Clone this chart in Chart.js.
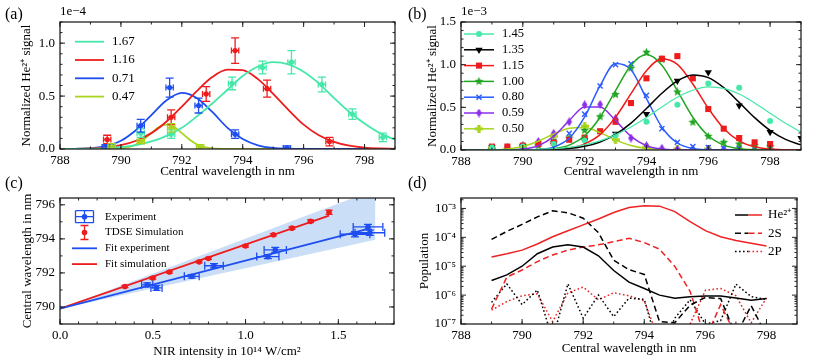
<!DOCTYPE html>
<html>
<head>
<meta charset="utf-8">
<title>He2+ signal vs central wavelength</title>
<script src="https://cdn.jsdelivr.net/npm/chart.js@4.4.1/dist/chart.umd.min.js"></script>
<style>
  body { margin: 0; background: #fff; font-family: "Liberation Serif", serif; }
  #page { position: relative; width: 814px; height: 359px; overflow: hidden; }
  .panel { position: absolute; }
  .txt { position: absolute; line-height: 1; color: #000; white-space: nowrap; }
</style>
</head>
<body>
<div id="page">
  <div class="panel" style="left:0;top:0;width:407px;height:182px"><canvas id="chartA"></canvas></div>
  <div class="panel" style="left:407px;top:0;width:407px;height:182px"><canvas id="chartB"></canvas></div>
  <div class="panel" style="left:0;top:175px;width:407px;height:184px"><canvas id="chartC"></canvas></div>
  <div class="panel" style="left:407px;top:175px;width:407px;height:184px"><canvas id="chartD"></canvas></div>
  <div class="txt" style="left:5px;top:6px;font-size:16px">(a)</div>
  <div class="txt" style="left:408px;top:6px;font-size:16px">(b)</div>
  <div class="txt" style="left:5px;top:175px;font-size:16px">(c)</div>
  <div class="txt" style="left:408px;top:175px;font-size:16px">(d)</div>
  <div class="txt" style="left:60px;top:4px;font-size:13px">1e&minus;4</div>
  <div class="txt" style="left:461px;top:4px;font-size:13px">1e&minus;3</div>
</div>
<script>
// ---------- (a) measured He2+ signal, in units of 1e-4 ----------
const aXTicks = [788, 790, 792, 794, 796, 798];
const aYTicks = [0, 0.5, 1.0];
const aFitX = [788, 788.5, 789, 789.5, 790, 790.5, 791, 791.5, 792, 792.5, 793, 793.5, 794, 794.5, 795, 795.5, 796, 796.5, 797, 797.5, 798, 798.5, 799];
const aFit167 = [0.0005, 0.0014, 0.0036, 0.0084, 0.018, 0.037, 0.071, 0.124, 0.20, 0.31, 0.43, 0.56, 0.69, 0.78, 0.82, 0.80, 0.73, 0.62, 0.48, 0.35, 0.24, 0.15, 0.089];
const aFit116 = [0.0006, 0.0019, 0.0056, 0.015, 0.036, 0.078, 0.15, 0.26, 0.40, 0.55, 0.68, 0.75, 0.745, 0.66, 0.52, 0.37, 0.23, 0.13, 0.068, 0.031, 0.012, 0.0045, 0.0015];
const aFit071 = [0.0003, 0.0017, 0.0077, 0.027, 0.078, 0.18, 0.32, 0.46, 0.53, 0.48, 0.35, 0.20, 0.094, 0.035, 0.010, 0.0024, 0.0004, 0.0001, 0, 0, 0, 0, 0];
const aFit047X = [788, 789, 789.5, 790, 790.25, 790.5, 790.75, 791, 791.25, 791.5, 791.75, 792, 792.25, 792.5, 792.75, 793, 793.5, 794, 799];
const aFit047 = [0, 0, 0.0003, 0.0054, 0.017, 0.043, 0.09, 0.15, 0.207, 0.23, 0.207, 0.15, 0.09, 0.043, 0.017, 0.0054, 0.0003, 0, 0];

const a167X = [789.7, 790.65, 791.65, 793.65, 794.65, 795.6, 796.6, 797.6, 798.6];
const a167Y = [0.03, 0.15, 0.14, 0.62, 0.77, 0.82, 0.61, 0.33, 0.11];
const a167E = [0.02, 0.04, 0.04, 0.06, 0.06, 0.11, 0.07, 0.05, 0.04];
const a116X = [789.55, 791.65, 792.8, 793.75, 794.8, 796.85];
const a116Y = [0.09, 0.30, 0.52, 0.93, 0.57, 0.07];
const a116E = [0.04, 0.07, 0.07, 0.12, 0.08, 0.04];
const a071X = [789.5, 790.65, 791.6, 792.55, 793.75, 795.45];
const a071Y = [0.02, 0.22, 0.58, 0.41, 0.14, 0.01];
const a071E = [0.02, 0.06, 0.09, 0.07, 0.04, 0.02];
const a047X = [789.7, 790.65, 791.65, 792.6];
const a047Y = [0.03, 0.07, 0.20, 0.02];
const a047E = [0.02, 0.02, 0.04, 0.02];
const aXErr = 0.12;   // wavelength uncertainty, nm

// ---------- (b) simulated He2+ signal, in units of 1e-3 ----------
const bXTicks = [788, 790, 792, 794, 796, 798];
const bYTicks = [0, 0.5, 1.0, 1.5];
const bFitX = aFitX;
const bFit145 = [0.00003, 0.0001, 0.0004, 0.0011, 0.0029, 0.0068, 0.015, 0.031, 0.06, 0.107, 0.177, 0.27, 0.38, 0.505, 0.618, 0.70, 0.74, 0.722, 0.656, 0.552, 0.431, 0.313, 0.21];
const bFit135 = [0, 0, 0.00004, 0.00015, 0.0006, 0.0021, 0.0064, 0.0176, 0.043, 0.094, 0.183, 0.315, 0.486, 0.665, 0.81, 0.88, 0.848, 0.73, 0.558, 0.38, 0.23, 0.124, 0.06];
const bFit115 = [0, 0, 0, 0.00003, 0.0002, 0.0013, 0.006, 0.023, 0.072, 0.18, 0.385, 0.66, 0.93, 1.066, 1.004, 0.774, 0.489, 0.252, 0.107, 0.037, 0.0105, 0.0024, 0.0004];
const bFit100 = [0, 0, 0, 0.00007, 0.0006, 0.0033, 0.0154, 0.057, 0.167, 0.384, 0.696, 0.994, 1.12, 0.994, 0.696, 0.384, 0.167, 0.057, 0.0154, 0.0033, 0.0006, 0, 0];
const bFit080 = [0, 0, 0, 0, 0.0007, 0.0057, 0.034, 0.137, 0.387, 0.753, 1.013, 0.94, 0.603, 0.267, 0.082, 0.017, 0.0025, 0.0003, 0, 0, 0, 0, 0];
const bFit059 = [0, 0, 0.0002, 0.0016, 0.011, 0.05, 0.16, 0.344, 0.505, 0.505, 0.344, 0.16, 0.05, 0.011, 0.0016, 0.0002, 0, 0, 0, 0, 0, 0, 0];
const bFit050 = [0.00007, 0.0005, 0.003, 0.013, 0.042, 0.103, 0.187, 0.256, 0.264, 0.204, 0.119, 0.052, 0.017, 0.004, 0.0008, 0.0001, 0, 0, 0, 0, 0, 0, 0];

const bX1 = [789, 790, 791, 792, 793, 794, 795, 796, 797, 798, 799];
const b145 = [0.03, 0.04, 0.07, 0.11, 0.17, 0.33, 0.53, 0.78, 0.73, 0.34, null];
const b135 = [0.03, 0.04, 0.06, 0.11, 0.19, 0.42, 0.81, 0.91, 0.52, 0.21, 0.14];
const b050 = [0.02, 0.05, 0.16, 0.28, 0.12, 0.03, 0.01, 0.01, 0.01, 0.01, null];
const bX05 = [789, 789.5, 790, 790.5, 791, 791.5, 792, 792.5, 793, 793.5, 794, 794.5, 795, 795.5, 796, 796.5, 797, 797.5, 798];
const b115 = [0.04, 0.04, 0.05, 0.07, 0.086, 0.12, 0.145, 0.22, 0.33, 0.55, 0.84, 1.07, 1.10, 0.84, 0.48, 0.25, 0.14, 0.09, 0.07];
const b100 = [0.01, 0.01, 0.02, 0.05, 0.09, 0.14, 0.23, 0.39, 0.65, 0.96, 1.145, 1.06, 0.68, 0.325, 0.16, 0.09, 0.07, 0.05, 0.04];
const b080 = [0.02, 0.02, 0.03, 0.07, 0.10, 0.195, 0.42, 0.75, 1.0, 1.01, 0.64, 0.25, 0.09, 0.04, 0.03, 0.02, 0.02, 0.02, 0.02];
const b059 = [0.01, 0.03, 0.05, 0.10, 0.195, 0.33, 0.53, 0.535, 0.37, 0.14, 0.05, 0.02, 0.01, 0.01, 0.01, 0.01, 0.01, 0.01, 0.01];

// ---------- (c) central wavelength vs NIR intensity ----------
const cXTicks = [0, 0.5, 1.0, 1.5];
const cYTicks = [790, 792, 794, 796];
const cExpX = [0.47, 0.52, 0.71, 0.83, 1.12, 1.16, 1.59, 1.66, 1.67];
const cExpY = [791.3, 791.12, 791.8, 792.42, 792.96, 793.35, 794.27, 794.7, 794.36];
const cExpXE = [0.03, 0.03, 0.04, 0.05, 0.06, 0.06, 0.08, 0.08, 0.08];
const cExpYE = [0.12, 0.15, 0.1, 0.12, 0.12, 0.15, 0.15, 0.15, 0.15];
const cSimX = [0.35, 0.5, 0.59, 0.75, 0.8, 1.0, 1.15, 1.25, 1.35, 1.45];
const cSimY = [791.2, 791.7, 792.05, 792.65, 792.85, 793.58, 794.24, 794.63, 795.03, 795.56];
const cSimYE = [0.06, 0.06, 0.06, 0.06, 0.06, 0.07, 0.07, 0.07, 0.08, 0.12];
const cFitExpX = [0, 1.67];
const cFitExpY = [789.9, 794.62];
const cFitSimX = [0, 1.45];
const cFitSimY = [789.9, 795.37];
const cBandX = [0, 1.7];
const cBandHi = [789.9, 796.9];
const cBandLo = [789.9, 793.95];

// ---------- (d) populations vs central wavelength ----------
const dXTicks = [788, 790, 792, 794, 796, 798];
const dYTicks = [1e-7, 1e-6, 1e-5, 1e-4, 1e-3];
const dX = [789, 789.5, 790, 790.5, 791, 791.5, 792, 792.5, 793, 793.5, 794, 794.5, 795, 795.5, 796, 796.5, 797, 797.5, 798];
const dHeBlack = [3.2e-6, 5.0e-6, 1.0e-5, 2.7e-5, 4.6e-5, 5.5e-5, 4.6e-5, 2.3e-5, 7.1e-6, 2.8e-6, 1.7e-6, 1.0e-6, 7.8e-7, 8.7e-7, 9.3e-7, 9.3e-7, 7.9e-7, 6.6e-7, 7.6e-7];
const dHeRed = [2.1e-5, 2.7e-5, 3.6e-5, 5.9e-5, 1.05e-4, 1.7e-4, 2.7e-4, 4.3e-4, 7.2e-4, 1.07e-3, 1.23e-3, 1.2e-3, 7.8e-4, 3.5e-4, 1.7e-4, 1.05e-4, 7.8e-5, 6.2e-5, 5.0e-5];
const d2SBlack = [8.5e-5, 1.6e-4, 2.8e-4, 5.1e-4, 8.3e-4, 7.1e-4, 4.6e-4, 1.45e-4, 1.6e-5, 7.6e-6, 5.2e-6, 1.2e-7, 1.1e-7, 4.5e-7, 8.3e-7, 7.6e-7, 4e-8, 4.3e-7, 4e-8];
const d2SRed = [3.3e-7, 4.2e-6, 7.4e-6, 1.45e-5, 2.45e-5, 3.6e-5, 4.6e-5, 5.5e-5, 7.1e-5, 9.3e-5, 6.6e-5, 3.9e-5, 9.8e-6, 1.35e-6, 3e-8, 4.7e-7, 4e-8, 2.5e-8, 8e-8];
const d2PBlack = [5.6e-7, 2.45e-6, 4.7e-7, 1.5e-6, 3e-8, 2.45e-6, 1.6e-7, 1.0e-6, 1.8e-7, 7.9e-7, 7.1e-7, 1e-8, 1.6e-7, 6.9e-7, 1.0e-7, 1.3e-7, 2.4e-6, 8.9e-7, 7.1e-7];
const d2PRed = [3.0e-7, 6.0e-7, 9.5e-7, 1.1e-6, 1.2e-7, 1.2e-6, 1.9e-6, 6.9e-7, 1.2e-6, 9.5e-7, 6.3e-7, 2.5e-8, 2.5e-8, 1.0e-7, 1.45e-6, 1.7e-6, 9.5e-7, 1.1e-7, 8e-7];

// colours
const MINT = '#45e8a8', RED = '#ee1c1c', BLUE = '#1f4ef0', LIME = '#a8d41e';
const BLACK = '#000', GREEN = '#22a522', BBLUE = '#2a5cff', PURPLE = '#8a2ee8';

Chart.defaults.font.family = '"Liberation Serif", "Times New Roman", serif';
Chart.defaults.font.size = 13;
Chart.defaults.color = '#000';

// little canvases used as marker shapes
function shape(size, color, path) {
  const c = document.createElement('canvas');
  c.width = c.height = size;
  const g = c.getContext('2d');
  g.fillStyle = color;
  g.translate(size / 2, size / 2);
  g.beginPath();
  path(g, size / 2);
  g.fill();
  return c;
}
const starPath = (g, r) => {
  for (let i = 0; i < 10; i++) {
    const t = -Math.PI / 2 + i * Math.PI / 5, rr = i % 2 ? r * 0.45 : r;
    g.lineTo(rr * Math.cos(t), rr * Math.sin(t));
  }
  g.closePath();
};
const diamondPath = (g, r) => { g.moveTo(0, -r); g.lineTo(r * 0.62, 0); g.lineTo(0, r); g.lineTo(-r * 0.62, 0); g.closePath(); };
const plusPath = (g, r) => { const w = r * 0.4; g.rect(-r, -w, 2 * r, 2 * w); g.rect(-w, -r, 2 * w, 2 * r); };
const starMk = shape(9, GREEN, starPath);
const diamondMk = shape(9, PURPLE, diamondPath);
const plusMk = shape(8, LIME, plusPath);

const pts = (xs, ys) => xs.map((x, i) => ({x: x, y: ys[i]}));

function curve(xs, ys, color, w, dash) {
  return {data: pts(xs, ys), borderColor: color, borderWidth: w, borderDash: dash || [],
          pointRadius: 0, cubicInterpolationMode: 'monotone', fill: false};
}
function poly(xs, ys, color, w, dash) {
  return {data: pts(xs, ys), borderColor: color, borderWidth: w, borderDash: dash || [],
          pointRadius: 0, tension: 0, fill: false};
}
function dots(xs, ys, color, style, r, rot) {
  return {data: pts(xs, ys), showLine: false, pointStyle: style, pointRadius: r, pointRotation: rot || 0,
          pointBackgroundColor: color, pointBorderColor: color, pointBorderWidth: style === 'crossRot' ? 1.4 : 0};
}

function axis(type, min, max, ticks, title, size, pad, isX, fmt) {
  return {
    type: type, min: min, max: max,
    grid: {display: false, drawTicks: false}, border: {display: false},
    afterBuildTicks: s => { s.ticks = ticks.map(v => ({value: v})); },
    afterFit: s => { if (isX) s.height = size; else s.width = size; },
    ticks: {padding: isX ? 4 : 5, callback: fmt, maxRotation: 0, autoSkip: false},
    title: {display: true, text: title, padding: pad}
  };
}

function options(x, y, pad, plugins) {
  return {
    responsive: true, maintainAspectRatio: false, animation: false,
    layout: {padding: pad},
    scales: {x: x, y: y},
    plugins: Object.assign({legend: {display: false}, tooltip: {enabled: false}}, plugins)
  };
}

// box and inward ticks on all four sides
const frame = {
  id: 'frame',
  afterDraw(chart, args, o) {
    const {ctx, chartArea: a} = chart;
    const xs = chart.scales.x, ys = chart.scales.y;
    const minors = (s, step) => {
      const out = [];
      if (s.type === 'logarithmic') {
        for (let e = Math.floor(Math.log10(s.min)); e <= Math.ceil(Math.log10(s.max)); e++)
          for (let m = 2; m < 10; m++) { const v = m * Math.pow(10, e); if (v > s.min && v < s.max) out.push(v); }
      } else {
        for (let v = Math.ceil(s.min / step - 1e-9) * step; v <= s.max + 1e-9; v += step) out.push(v);
      }
      return out;
    };
    ctx.save();
    ctx.strokeStyle = '#222';
    ctx.lineWidth = 1;
    ctx.beginPath();
    const tx = (v, len) => {
      const p = xs.getPixelForValue(v);
      ctx.moveTo(p, a.bottom); ctx.lineTo(p, a.bottom - len);
      ctx.moveTo(p, a.top); ctx.lineTo(p, a.top + len);
    };
    const ty = (v, len) => {
      const p = ys.getPixelForValue(v);
      ctx.moveTo(a.left, p); ctx.lineTo(a.left + len, p);
      ctx.moveTo(a.right, p); ctx.lineTo(a.right - len, p);
    };
    xs.ticks.forEach(t => tx(t.value, 5));
    ys.ticks.forEach(t => ty(t.value, 5));
    minors(xs, o.xMinor).forEach(v => tx(v, 2.5));
    minors(ys, o.yMinor).forEach(v => ty(v, 2.5));
    ctx.stroke();
    ctx.lineWidth = 1.3;
    ctx.strokeRect(a.left, a.top, a.right - a.left, a.bottom - a.top);
    ctx.restore();
  }
};

// error bars read from the data arrays
const errbars = {
  id: 'errbars',
  afterDatasetsDraw(chart, args, o) {
    if (!o.sets) return;
    const {ctx, chartArea: a} = chart;
    const xs = chart.scales.x, ys = chart.scales.y;
    ctx.save();
    ctx.beginPath();
    ctx.rect(a.left, a.top, a.right - a.left, a.bottom - a.top);
    ctx.clip();
    o.sets.forEach(s => {
      ctx.strokeStyle = s.color;
      ctx.lineWidth = s.width || 1.3;
      ctx.beginPath();
      s.x.forEach((xv, i) => {
        const px = xs.getPixelForValue(xv), py = ys.getPixelForValue(s.y[i]);
        if (s.ye) {
          const e = s.ye[i];
          const y1 = ys.getPixelForValue(s.y[i] - e), y2 = ys.getPixelForValue(s.y[i] + e);
          ctx.moveTo(px, y1); ctx.lineTo(px, y2);
          ctx.moveTo(px - s.cap, y1); ctx.lineTo(px + s.cap, y1);
          ctx.moveTo(px - s.cap, y2); ctx.lineTo(px + s.cap, y2);
        }
        if (s.xe !== undefined) {
          const e = Array.isArray(s.xe) ? s.xe[i] : s.xe;
          const x1 = xs.getPixelForValue(xv - e), x2 = xs.getPixelForValue(xv + e);
          ctx.moveTo(x1, py); ctx.lineTo(x2, py);
          ctx.moveTo(x1, py - s.xcap); ctx.lineTo(x1, py + s.xcap);
          ctx.moveTo(x2, py - s.xcap); ctx.lineTo(x2, py + s.xcap);
        }
      });
      ctx.stroke();
    });
    ctx.restore();
  }
};

function mark(ctx, m, x, y, color) {
  ctx.save();
  ctx.fillStyle = color; ctx.strokeStyle = color; ctx.lineWidth = 1.4; ctx.setLineDash([]);
  if (m.style instanceof HTMLCanvasElement) {
    ctx.drawImage(m.style, x - m.style.width / 2, y - m.style.height / 2);
  } else if (Chart.helpers && Chart.helpers.drawPoint) {
    Chart.helpers.drawPoint(ctx, {pointStyle: m.style, radius: m.r, rotation: m.rot || 0,
                                  borderWidth: m.style === 'crossRot' ? 1.4 : 0}, x, y);
  } else {
    ctx.beginPath(); ctx.arc(x, y, m.r * 0.8, 0, 2 * Math.PI); ctx.fill();
  }
  ctx.restore();
}

// hand-placed legends inside the plot frame
const keys = {
  id: 'keys',
  afterDraw(chart, args, o) {
    if (!o.items) return;
    const ctx = chart.ctx;
    ctx.save();
    ctx.font = o.font + 'px "Liberation Serif", serif';
    ctx.textBaseline = 'middle';
    o.items.forEach((it, i) => {
      const y = o.y + i * o.dy, x0 = o.x, x1 = o.x + o.len, xm = (x0 + x1) / 2;
      ctx.lineWidth = it.width || 1.8;
      ctx.setLineDash(it.dash || []);
      if (it.colors) {
        ctx.strokeStyle = it.colors[0];
        ctx.beginPath(); ctx.moveTo(x0, y); ctx.lineTo(xm, y); ctx.stroke();
        ctx.strokeStyle = it.colors[1];
        ctx.beginPath(); ctx.moveTo(xm, y); ctx.lineTo(x1, y); ctx.stroke();
      } else if (it.line) {
        ctx.strokeStyle = it.color;
        ctx.beginPath(); ctx.moveTo(x0, y); ctx.lineTo(x1, y); ctx.stroke();
      }
      ctx.setLineDash([]);
      if (it.err) {
        ctx.strokeStyle = it.color; ctx.fillStyle = it.color; ctx.lineWidth = 1.3;
        ctx.beginPath();
        if (it.err === 'xy') {
          ctx.moveTo(xm - 9, y); ctx.lineTo(xm + 9, y);
          ctx.moveTo(xm - 9, y - 6); ctx.lineTo(xm - 9, y + 6);
          ctx.moveTo(xm + 9, y - 6); ctx.lineTo(xm + 9, y + 6);
          ctx.moveTo(xm, y - 6); ctx.lineTo(xm, y + 6);
          ctx.moveTo(xm - 9, y - 6); ctx.lineTo(xm + 9, y - 6);
          ctx.moveTo(xm - 9, y + 6); ctx.lineTo(xm + 9, y + 6);
        } else {
          ctx.moveTo(xm, y - 7); ctx.lineTo(xm, y + 7);
          ctx.moveTo(xm - 4, y - 7); ctx.lineTo(xm + 4, y - 7);
          ctx.moveTo(xm - 4, y + 7); ctx.lineTo(xm + 4, y + 7);
        }
        ctx.stroke();
        ctx.beginPath(); ctx.arc(xm, y, 2.8, 0, 2 * Math.PI); ctx.fill();
      }
      if (it.marker) mark(ctx, it.marker, xm, y, it.color);
      ctx.fillStyle = '#000';
      ctx.fillText(it.text, x1 + o.gap, y);
    });
    ctx.restore();
  }
};

Chart.register(frame, errbars, keys);

const fmt1 = v => v.toFixed(1);
const fmt0 = v => String(v);
const SUP = {'-': '\u207B', '0': '\u2070', '1': '\u00B9', '2': '\u00B2', '3': '\u00B3', '4': '\u2074', '5': '\u2075', '6': '\u2076', '7': '\u2077', '8': '\u2078', '9': '\u2079'};
const fmtPow = v => '10' + String(Math.round(Math.log10(v))).split('').map(c => SUP[c]).join('');

// ---------- chart (a) ----------
new Chart(document.getElementById('chartA'), {
  type: 'line',
  data: {datasets: [
    curve(aFitX, aFit167, MINT, 1.8),
    curve(aFitX, aFit116, RED, 1.8),
    curve(aFitX, aFit071, BLUE, 1.8),
    curve(aFit047X, aFit047, LIME, 1.8),
    dots(a167X, a167Y, MINT, 'circle', 2.6),
    dots(a116X, a116Y, RED, 'circle', 2.6),
    dots(a071X, a071Y, BLUE, 'circle', 2.6),
    dots(a047X, a047Y, LIME, 'circle', 2.6)
  ]},
  options: options(
    axis('linear', 788, 799, aXTicks, 'Central wavelength in nm', 33, {top: 0, bottom: 3}, true, fmt0),
    axis('linear', 0, 1.2, aYTicks, 'Normalized He\u00B2\u207A signal', 60, {top: 19, bottom: 0}, false, fmt1),
    {left: 0, right: 12, top: 22, bottom: 0},
    {
      frame: {xMinor: 1, yMinor: 0.1},
      errbars: {sets: [
        {x: a167X, y: a167Y, ye: a167E, xe: aXErr, color: MINT, cap: 4, xcap: 3},
        {x: a116X, y: a116Y, ye: a116E, xe: aXErr, color: RED, cap: 4, xcap: 3},
        {x: a071X, y: a071Y, ye: a071E, xe: aXErr, color: BLUE, cap: 4, xcap: 3},
        {x: a047X, y: a047Y, ye: a047E, xe: aXErr, color: LIME, cap: 4, xcap: 3}
      ]},
      keys: {x: 75, y: 41.7, dy: 18.3, len: 29, gap: 8, font: 13, items: [
        {text: '1.67', color: MINT, line: true},
        {text: '1.16', color: RED, line: true},
        {text: '0.71', color: BLUE, line: true},
        {text: '0.47', color: LIME, line: true}
      ]}
    })
});

// ---------- chart (b) ----------
new Chart(document.getElementById('chartB'), {
  type: 'line',
  data: {datasets: [
    curve(bFitX, bFit145, MINT, 1.2),
    curve(bFitX, bFit135, BLACK, 1.5),
    curve(bFitX, bFit115, RED, 1.5),
    curve(bFitX, bFit100, GREEN, 1.5),
    curve(bFitX, bFit080, BBLUE, 1.5),
    curve(bFitX, bFit059, PURPLE, 1.5),
    curve(bFitX, bFit050, LIME, 1.5),
    dots(bX1, b145, MINT, 'circle', 3),
    dots(bX1, b135, BLACK, 'triangle', 4.2, 180),
    dots(bX05, b115, RED, 'rect', 4.3),
    dots(bX05, b100, GREEN, starMk, 4),
    dots(bX05, b080, BBLUE, 'crossRot', 3.6),
    dots(bX05, b059, PURPLE, diamondMk, 4),
    dots(bX1, b050, LIME, plusMk, 4)
  ]},
  options: options(
    axis('linear', 788, 799, bXTicks, 'Central wavelength in nm', 32, {top: 0, bottom: 3}, true, fmt0),
    axis('linear', 0, 1.5, bYTicks, 'Normalized He\u00B2\u207A signal', 54, {top: 18, bottom: 0}, false, fmt1),
    {left: 0, right: 13, top: 22, bottom: 0},
    {
      frame: {xMinor: 1, yMinor: 0.1},
      keys: {x: 57, y: 34, dy: 15.8, len: 30, gap: 8, font: 12.5, items: [
        {text: '1.45', color: MINT, line: true, width: 1.5, marker: {style: 'circle', r: 3}},
        {text: '1.35', color: BLACK, line: true, width: 1.5, marker: {style: 'triangle', r: 4.2, rot: 180}},
        {text: '1.15', color: RED, line: true, width: 1.5, marker: {style: 'rect', r: 4.3}},
        {text: '1.00', color: GREEN, line: true, width: 1.5, marker: {style: starMk}},
        {text: '0.80', color: BBLUE, line: true, width: 1.5, marker: {style: 'crossRot', r: 3.6}},
        {text: '0.59', color: PURPLE, line: true, width: 1.5, marker: {style: diamondMk}},
        {text: '0.50', color: LIME, line: true, width: 1.5, marker: {style: plusMk}}
      ]}
    })
});

// ---------- chart (c) ----------
new Chart(document.getElementById('chartC'), {
  type: 'line',
  data: {datasets: [
    dots(cExpX, cExpY, BLUE, 'circle', 2.8),
    dots(cSimX, cSimY, RED, 'circle', 2.8),
    poly(cFitExpX, cFitExpY, BLUE, 1.8),
    poly(cFitSimX, cFitSimY, RED, 1.8),
    Object.assign(poly(cBandX, cBandHi, 'rgba(0,0,0,0)', 0), {fill: '+1', backgroundColor: 'rgba(150,192,240,0.5)'}),
    poly(cBandX, cBandLo, 'rgba(0,0,0,0)', 0)
  ]},
  options: options(
    axis('linear', 0, 1.8, cXTicks, 'NIR intensity in 10\u00B9\u2074 W/cm\u00B2', 35, {top: 0, bottom: 0}, true, fmt1),
    axis('linear', 789, 796.4, cYTicks, 'Central wavelength in nm', 60, {top: 20, bottom: 0}, false, fmt0),
    {left: 0, right: 13, top: 23, bottom: 0},
    {
      frame: {xMinor: 0.1, yMinor: 1},
      errbars: {sets: [
        {x: cExpX, y: cExpY, ye: cExpYE, xe: cExpXE, color: BLUE, cap: 4, xcap: 4},
        {x: cSimX, y: cSimY, ye: cSimYE, color: RED, cap: 3.5}
      ]},
      keys: {x: 72, y: 41.7, dy: 15.8, len: 25, gap: 8, font: 11, items: [
        {text: 'Experiment', color: BLUE, err: 'xy'},
        {text: 'TDSE Simulation', color: RED, err: 'y'},
        {text: 'Fit experiment', color: BLUE, line: true},
        {text: 'Fit simulation', color: RED, line: true}
      ]}
    })
});

// ---------- chart (d) ----------
const DASH = [6, 3.5], DOT = [1.6, 2.4];
new Chart(document.getElementById('chartD'), {
  type: 'line',
  data: {datasets: [
    poly(dX, dHeBlack, BLACK, 1.5),
    poly(dX, dHeRed, '#ee2222', 1.5),
    poly(dX, d2SBlack, BLACK, 1.5, DASH),
    poly(dX, d2SRed, '#ee2222', 1.5, DASH),
    poly(dX, d2PBlack, BLACK, 1.5, DOT),
    poly(dX, d2PRed, '#ee2222', 1.5, DOT)
  ]},
  options: options(
    axis('linear', 788, 799, dXTicks, 'Central wavelength in nm', 35, {top: 0, bottom: 3}, true, fmt0),
    axis('logarithmic', 1e-7, 2.3e-3, dYTicks, 'Population', 54, {top: 10, bottom: 0}, false, fmtPow),
    {left: 0, right: 17, top: 23, bottom: 0},
    {
      frame: {xMinor: 1},
      keys: {x: 328, y: 40, dy: 18.3, len: 27, gap: 6, font: 13, items: [
        {text: 'He\u00B2\u207A', colors: [BLACK, '#ee2222'], width: 1.5},
        {text: '2S', colors: [BLACK, '#ee2222'], width: 1.5, dash: DASH},
        {text: '2P', colors: [BLACK, '#ee2222'], width: 1.5, dash: DOT}
      ]}
    })
});
</script>
</body>
</html>
